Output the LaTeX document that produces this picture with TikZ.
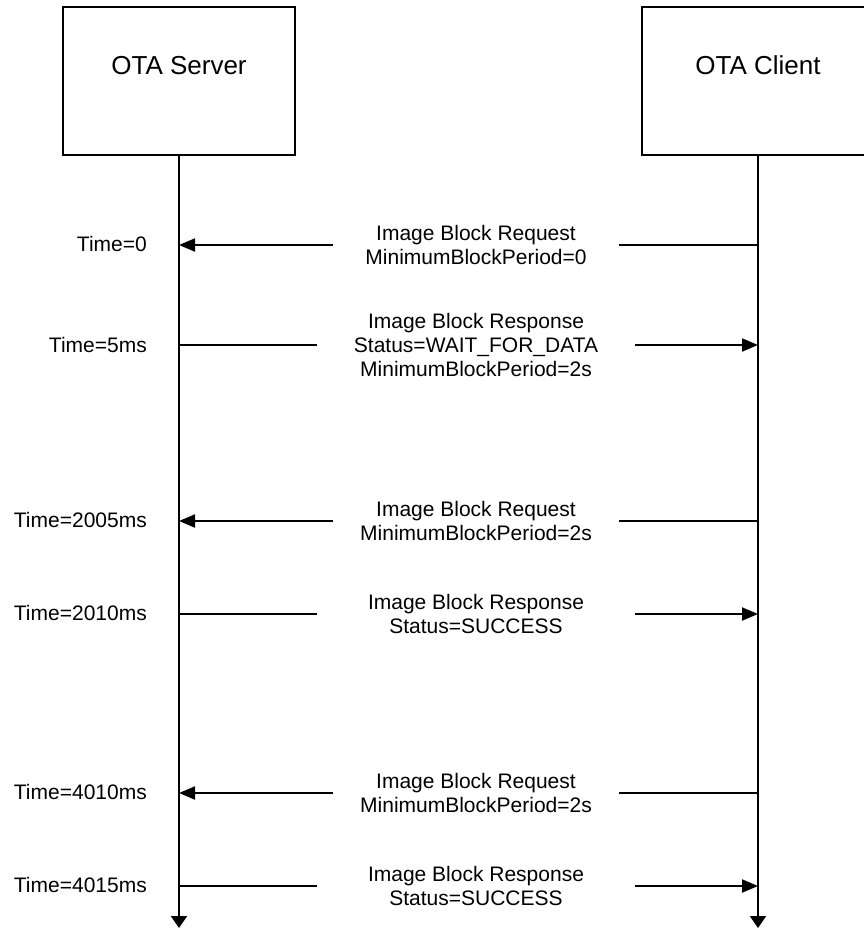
\documentclass[tikz,border=0pt]{standalone}
\usepackage{fontspec}
\setmainfont{Liberation Sans}
\usetikzlibrary{arrows.meta,positioning}

\tikzset{
  party/.style={draw,line width=2pt,minimum width=232pt,minimum height=148pt,
    text depth=32pt,font=\fontsize{26}{30}\selectfont},
  life/.style={line width=2pt,-{Triangle[length=12pt,width=16pt]}},
  msg/.style={line width=2pt},
  msgarrow/.style={line width=2pt,-{Triangle[length=16pt,width=13pt]}},
  msglabel/.style={align=center,inner sep=0pt,font=\fontsize{21}{24}\selectfont},
  req/.style={msglabel,minimum width=286pt},
  resp/.style={msglabel,minimum width=318pt},
  timelabel/.style={anchor=east,inner sep=0pt,font=\fontsize{21}{24}\selectfont}
}

\begin{document}
\begin{tikzpicture}[x=1pt,y=-1pt]
 \useasboundingbox (0,0) rectangle (864,930);
 % the two parties and their lifelines
 \node[party] (srv) at (179,81) {OTA Server};
 \node[party] (cli) at (758,81) {OTA Client};
 \coordinate (srvend) at (179,928);
 \coordinate (cliend) at (758,928);
 \draw[life] (srv.south) -- (srvend);
 \draw[life] (cli.south) -- (cliend);

 % first request, answered with wait for data
 \node[timelabel] (t1) at (147,244) {Time=0};
 \node[req] (m1) at (476,245) {Image Block Request\\MinimumBlockPeriod=0};
 \draw[msg] (cli |- m1) -- (m1.east);
 \draw[msgarrow] (m1.west) -- (srv |- m1);

 \node[timelabel] (t2) at (147,345) {Time=5ms};
 \node[resp] (m2) at (476,345) {Image Block Response\\Status=WAIT\_FOR\_DATA\\MinimumBlockPeriod=2s};
 \draw[msg] (srv |- m2) -- (m2.west);
 \draw[msgarrow] (m2.east) -- (cli |- m2);

 % second request after 2 s
 \node[timelabel] (t3) at (147,520) {Time=2005ms};
 \node[req] (m3) at (476,521) {Image Block Request\\MinimumBlockPeriod=2s};
 \draw[msg] (cli |- m3) -- (m3.east);
 \draw[msgarrow] (m3.west) -- (srv |- m3);

 \node[timelabel] (t4) at (147,613) {Time=2010ms};
 \node[resp] (m4) at (476,614) {Image Block Response\\Status=SUCCESS};
 \draw[msg] (srv |- m4) -- (m4.west);
 \draw[msgarrow] (m4.east) -- (cli |- m4);

 % third request after another 2 s
 \node[timelabel] (t5) at (147,792) {Time=4010ms};
 \node[req] (m5) at (476,793) {Image Block Request\\MinimumBlockPeriod=2s};
 \draw[msg] (cli |- m5) -- (m5.east);
 \draw[msgarrow] (m5.west) -- (srv |- m5);

 \node[timelabel] (t6) at (147,885) {Time=4015ms};
 \node[resp] (m6) at (476,886) {Image Block Response\\Status=SUCCESS};
 \draw[msg] (srv |- m6) -- (m6.west);
 \draw[msgarrow] (m6.east) -- (cli |- m6);
\end{tikzpicture}
\end{document}
